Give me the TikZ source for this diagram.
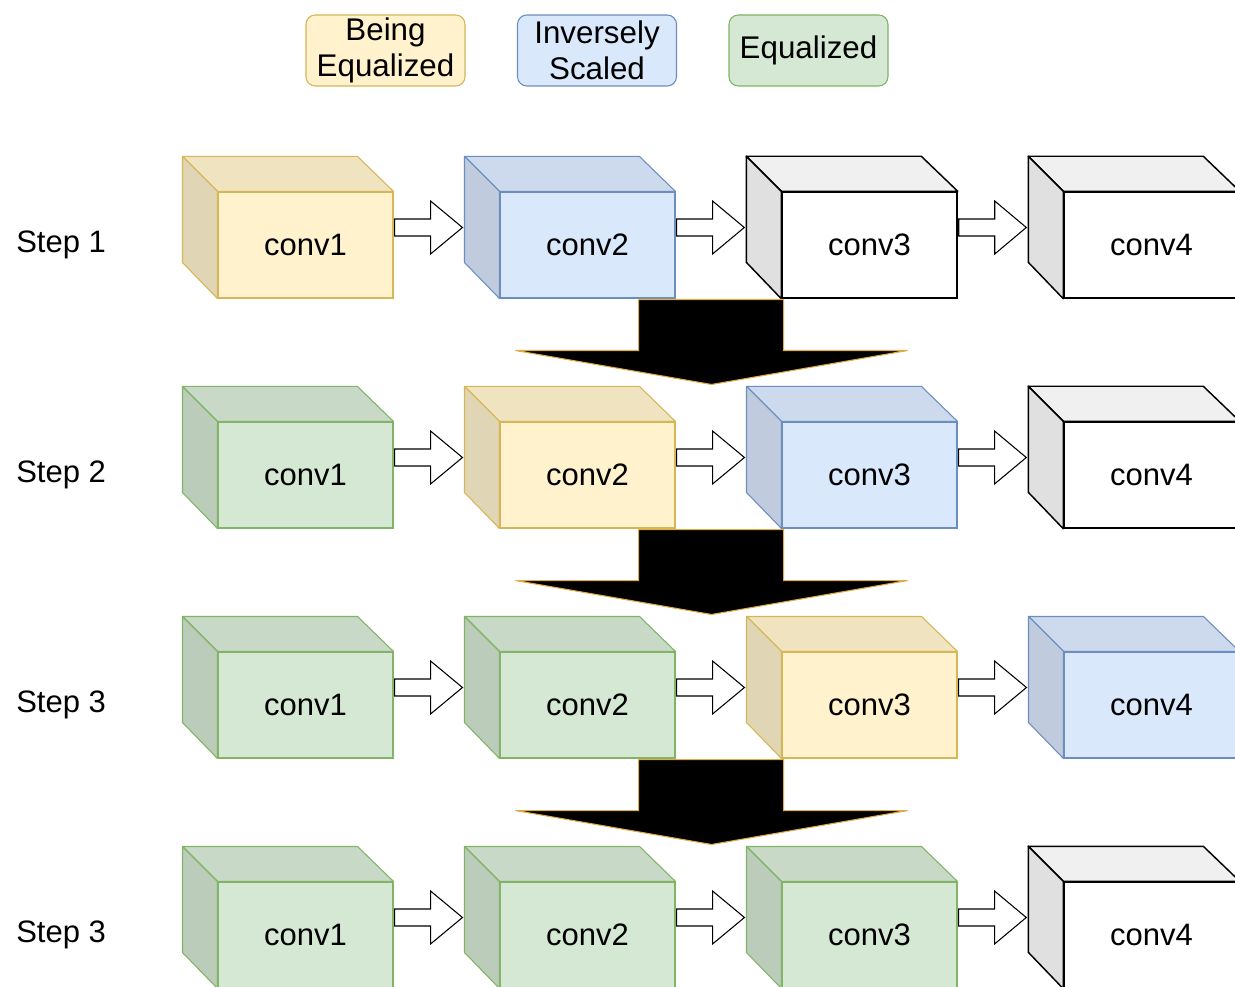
\documentclass[tikz,border=0pt]{standalone}
\usepackage{fontspec}
\setmainfont{Liberation Sans}
\usetikzlibrary{calc}
\definecolor{yelF}{HTML}{FFF2CC}\definecolor{yelS}{HTML}{D6B656}
\definecolor{bluF}{HTML}{DAE8FC}\definecolor{bluS}{HTML}{6C8EBF}
\definecolor{grnF}{HTML}{D5E8D4}\definecolor{grnS}{HTML}{82B366}
\definecolor{whtF}{HTML}{FFFFFF}\definecolor{whtS}{HTML}{000000}
\tikzset{
  cube-yel/.style={draw=yelS, line width=0.8pt},
  cube-blu/.style={draw=bluS, line width=0.8pt},
  cube-grn/.style={draw=grnS, line width=0.8pt},
  cube-wht/.style={draw=black, line width=1.1pt},
  cubefront/.style={minimum width=131.25pt, minimum height=79.5pt, inner sep=0pt,
     font=\fontsize{23.25}{27}\selectfont},
  legendbox/.style={rounded corners=7pt, minimum width=119.25pt, minimum height=53.25pt,
     inner sep=0pt, align=center, line width=0.8pt, font=\fontsize{23.5}{27}\selectfont},
  steplabel/.style={anchor=west, inner sep=0pt, font=\fontsize{23.25}{27}\selectfont},
  hollowarrow/.style={draw=black, fill=white, line width=0.8pt, line join=miter},
  bigarrow/.style={draw=yelS!80!orange, fill=black, line width=0.8pt, line join=miter},
}
\newcommand\cube[5]{%
  \node[cubefront, cube-#4, fill=#4F] (#1) at (#2,#3) {#5};
  \filldraw[cube-#4, fill=#4F!94!black, line join=round] (#1.north west) -- ++(-35,-35) -- ++(175,0) -- (#1.north east) -- cycle;
  \filldraw[cube-#4, fill=#4F!88!black, line join=round] (#1.north west) -- ++(-35,-35) -- ++(0,106) -- (#1.south west) -- cycle;
}
\newcommand\harrow[2]{%
  \draw[hollowarrow] ($(#1.east)+(1,-26)$) -- ($(#1.east)+(37,-26)$) -- ($(#1.east)+(37,-44)$)
     -- ($(#2.west)+(-37,-17.5)$) -- ($(#1.east)+(37,9)$) -- ($(#1.east)+(37,-9)$)
     -- ($(#1.east)+(1,-9)$) -- cycle;
}
\newcommand\bigarr[2]{%
  \draw[bigarrow] ($(#1.south east)+(-37,1)$) -- ($(#1.south east)+(108,1)$) -- ($(#1.south east)+(108,52)$)
     -- ($(#1.south east)+(232,52)$) -- ($(#2.north east)+(36,-37)$) -- ($(#1.south east)+(-160,52)$)
     -- ($(#1.south east)+(-37,52)$) -- cycle;
}
\begin{document}
\begin{tikzpicture}[x=0.75pt,y=-0.75pt]
\path[use as bounding box] (0,0) rectangle (1235,987);
\clip (0,0) rectangle (1235,987);
\fill[white] (0,0) rectangle (1235,987);

% legend
\node[legendbox, fill=yelF, draw=yelS] (lg1) at (385.5,50.5) {Being\\Equalized};
\node[legendbox, fill=bluF, draw=bluS] (lg2) at (597,50.5) {Inversely\\Scaled};
\node[legendbox, fill=grnF, draw=grnS] (lg3) at (808.5,50.5) {Equalized};

% step labels
\node[steplabel] (s1) at (16,245) {Step 1};
\node[steplabel] (s2) at (16,475) {Step 2};
\node[steplabel] (s3) at (16,705) {Step 3};
\node[steplabel] (s4) at (16,935) {Step 3};

% row 1
\cube{a1}{305.5}{245}{yel}{conv1}
\cube{a2}{587.5}{245}{blu}{conv2}
\cube{a3}{869.5}{245}{wht}{conv3}
\cube{a4}{1151.5}{245}{wht}{conv4}
% row 2
\cube{b1}{305.5}{475}{grn}{conv1}
\cube{b2}{587.5}{475}{yel}{conv2}
\cube{b3}{869.5}{475}{blu}{conv3}
\cube{b4}{1151.5}{475}{wht}{conv4}
% row 3
\cube{c1}{305.5}{705}{grn}{conv1}
\cube{c2}{587.5}{705}{grn}{conv2}
\cube{c3}{869.5}{705}{yel}{conv3}
\cube{c4}{1151.5}{705}{blu}{conv4}
% row 4
\cube{d1}{305.5}{935}{grn}{conv1}
\cube{d2}{587.5}{935}{grn}{conv2}
\cube{d3}{869.5}{935}{grn}{conv3}
\cube{d4}{1151.5}{935}{wht}{conv4}

% hollow arrows
\harrow{a1}{a2}\harrow{a2}{a3}\harrow{a3}{a4}
\harrow{b1}{b2}\harrow{b2}{b3}\harrow{b3}{b4}
\harrow{c1}{c2}\harrow{c2}{c3}\harrow{c3}{c4}
\harrow{d1}{d2}\harrow{d2}{d3}\harrow{d3}{d4}

% big arrows
\bigarr{a2}{b2}
\bigarr{b2}{c2}
\bigarr{c2}{d2}
\end{tikzpicture}
\end{document}
